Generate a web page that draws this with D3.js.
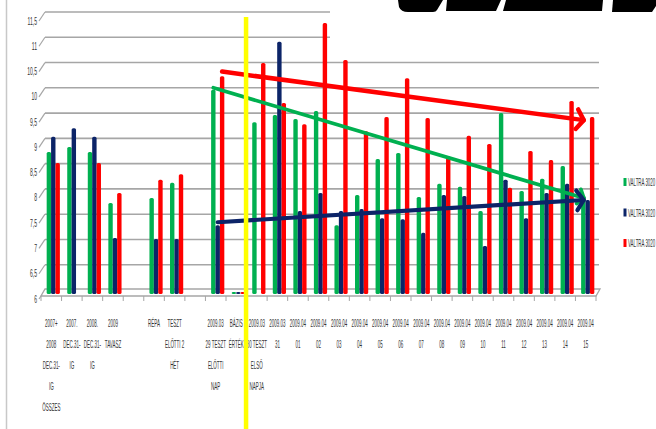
<!DOCTYPE html>
<html><head><meta charset="utf-8">
<script src="https://cdn.jsdelivr.net/npm/d3@7"></script>
<style>body{margin:0;background:#fff;}svg{display:block;}</style>
</head><body><svg id="c" width="656" height="429"></svg>
<script>
// ---- data ----
const categories = [
  "2007+\n2008\nDEC.31-\nIG\nÖSSZES",
  "2007.\nDEC.31-\nIG",
  "2008.\nDEC.31-\nIG",
  "2009\nTAVASZ",
  "",
  "RÉPA",
  "TESZT\nELŐTTI 2\nHÉT",
  "",
  "2009.03\n29 TESZT\nELŐTTI\nNAP",
  "BÁZIS\nÉRTÉK",
  "2009.03\n30 TESZT\nELSŐ\nNAPJA",
  "2009.03\n31",
  "2009.04\n01","2009.04\n02","2009.04\n03","2009.04\n04","2009.04\n05",
  "2009.04\n06","2009.04\n07","2009.04\n08","2009.04\n09","2009.04\n10",
  "2009.04\n11","2009.04\n12","2009.04\n13","2009.04\n14","2009.04\n15"
];
const seriesNames = ["VALTRA 3020", "VALTRA 3020", "VALTRA 3020"];
const greenValues = [8.81, 8.91, 8.81, 7.80, null, 7.90, 8.20, null, 10.04, 6.04, 9.40, 9.54, 9.46, 9.62, 7.36, 7.96, 8.67, 8.79, 7.92, 8.18, 8.12, 7.64, 9.58, 8.04, 8.28, 8.53, 7.94];
const navyValues  = [9.11, 9.28, 9.11, 7.11, null, 7.09, 7.09, null, 7.36, 6.04, null, 10.99, 7.64, 8.00, 7.64, 7.68, 7.50, 7.48, 7.21, 7.96, 7.94, 6.95, 8.26, 7.50, 8.00, 8.18, 7.86];
const redValues   = [8.59, null, 8.59, 8.00, null, 8.26, 8.37, null, 10.31, 6.04, 10.57, 9.78, 9.36, 11.36, 10.63, 9.22, 9.50, 10.27, 9.48, 8.73, 9.13, 8.97, 8.10, 8.83, 8.65, 9.82, 9.50];
const yTicks = [6, 6.5, 7, 7.5, 8, 8.5, 9, 9.5, 10, 10.5, 11, 11.5];
// hand-drawn trend arrows: from category index to category index
const trendCategories = [8, 26];
const trendGreen = [10.08, 7.90];
const trendNavy  = [7.42, 7.86];
const trendRed   = [10.40, 9.44];
// yellow marker line sits before this category index
const markerCategory = 10;

// ---- styles ----
const colors = ["#00b050", "#0c2468", "#ff0000"];
const svg = d3.select("#c");
const FONT = "'Liberation Sans', Arial, sans-serif";
const TXT = "#333333";

const x = d3.scaleBand().domain(d3.range(categories.length)).range([43, 598]).padding(0);
const y = d3.scaleLinear().domain([6, 11.5]).range([294, 16]);
const bw = 4.4;
const cx = i => x(i) + x.bandwidth() / 2;

// frame line
svg.append("line").attr("x1", 6.5).attr("x2", 6.5).attr("y1", 0).attr("y2", 429)
  .attr("stroke", "#c8c8c8").attr("stroke-width", 1.5);

// gridlines (back wall) + wall edge
const grid = svg.append("g");
yTicks.forEach(v => {
  const g = y(v) - 4;
  grid.append("line").attr("x1", 45).attr("x2", 599).attr("y1", g).attr("y2", g)
    .attr("stroke", "#a6a6a6").attr("stroke-width", 1.6);
  grid.append("line").attr("x1", 39).attr("x2", 45).attr("y1", g + 9).attr("y2", g)
    .attr("stroke", "#a6a6a6").attr("stroke-width", 1.2);
});

// floor
svg.append("path")
  .attr("d", `M41,296 L45,289 L600,289 L596,296 Z`)
  .attr("fill", "#fff").attr("stroke", "#a6a6a6").attr("stroke-width", 1.3);
// x ticks
d3.range(categories.length + 1).forEach(i => {
  const xx = 43 + i * x.step() - 2;
  svg.append("line").attr("x1", xx).attr("x2", xx).attr("y1", 296).attr("y2", 301)
    .attr("stroke", "#a6a6a6").attr("stroke-width", 1);
});

// white logo box covering top right
svg.append("rect").attr("x", 330).attr("y", 0).attr("width", 326).attr("height", 48).attr("fill", "#fff");
const logo = svg.append("g").attr("fill", "#000");
[
  "M398,0 L443,0 L437,10 Q436,12 433,12 L408,12 Q401,12 399,7 Z",
  "M447,0 L501,0 L496,11 L446,11 Z",
  "M506,0 L603,0 L602,11 L503,11 Z",
  "M613,0 L656,0 L656,6 L652,12 L612,12 Z"
].forEach(d => logo.append("path").attr("d", d));

// bars
const series = [greenValues, navyValues, redValues];
const barsG = svg.append("g");
series.forEach((vals, k) => {
  barsG.selectAll(null).data(vals.map((v, i) => ({v, i})).filter(d => d.v != null))
    .enter().append("rect")
    .attr("x", d => cx(d.i) + (k - 1) * bw - bw / 2)
    .attr("y", d => y(d.v))
    .attr("width", bw)
    .attr("height", d => Math.max(1.5, y(6) - y(d.v)))
    .attr("rx", 1.6)
    .attr("fill", colors[k]);
});

// y axis labels
const yAxis = svg.append("g").attr("transform", "translate(38,0)")
  .call(d3.axisLeft(y).tickValues(yTicks).tickSize(0)
    .tickFormat(d => String(d).replace(".", ",")));
yAxis.select(".domain").remove();
yAxis.selectAll("text")
  .attr("x", null).attr("dy", null)
  .attr("transform", "translate(-1,8) scale(0.44,1)")
  .attr("text-anchor", "end")
  .attr("font-family", FONT).attr("font-size", 11.5).attr("fill", TXT);

// x labels
const xl = svg.append("g");
categories.forEach((c, i) => {
  if (!c) return;
  c.split("\n").forEach((line, j) => {
    xl.append("text")
      .attr("transform", `translate(${cx(i) - 2},${327 + j * 21}) scale(0.39,1)`)
      .attr("text-anchor", "middle")
      .attr("font-family", FONT).attr("font-size", 11.5).attr("fill", TXT)
      .text(line);
  });
});

// trend arrows
function arrow(vals, k, color, width, head) {
  const x0 = cx(trendCategories[0]) + (k - 1) * bw;
  const x1 = cx(trendCategories[1]) - 4;
  const y0 = y(vals[0]), y1 = y(vals[1]);
  const g = svg.append("g").attr("stroke", color).attr("stroke-width", width)
    .attr("fill", "none").attr("stroke-linecap", "round").attr("stroke-linejoin", "round");
  g.append("line").attr("x1", x0).attr("y1", y0).attr("x2", x1).attr("y2", y1);
  const ang = Math.atan2(y1 - y0, x1 - x0);
  const a = 55 * Math.PI / 180;
  const p1 = [x1 - head * Math.cos(ang - a), y1 - head * Math.sin(ang - a)];
  const p2 = [x1 - head * Math.cos(ang + a), y1 - head * Math.sin(ang + a)];
  g.append("path").attr("d", `M${p1[0]},${p1[1]} L${x1},${y1} L${p2[0]},${p2[1]}`);
}
arrow(trendRed, 2, colors[2], 4.5, 12);
arrow(trendGreen, 0, colors[0], 3.8, 9);
arrow(trendNavy, 1, colors[1], 4.2, 12);

// yellow marker line
const mx = x(markerCategory) - 2.5;
svg.append("line").attr("x1", mx).attr("x2", mx).attr("y1", 17).attr("y2", 429)
  .attr("stroke", "#ffff00").attr("stroke-width", 4.5);

// legend
const leg = svg.append("g");
seriesNames.forEach((n, k) => {
  const ly = 182 + k * 30.5;
  leg.append("rect").attr("x", 623.5).attr("y", ly - 4).attr("width", 3).attr("height", 8).attr("fill", colors[k]);
  leg.append("text").attr("transform", `translate(628,${ly + 4}) scale(0.4,1)`)
    .attr("font-family", FONT).attr("font-size", 11).attr("fill", TXT).text(n);
});
</script>
</body></html>
